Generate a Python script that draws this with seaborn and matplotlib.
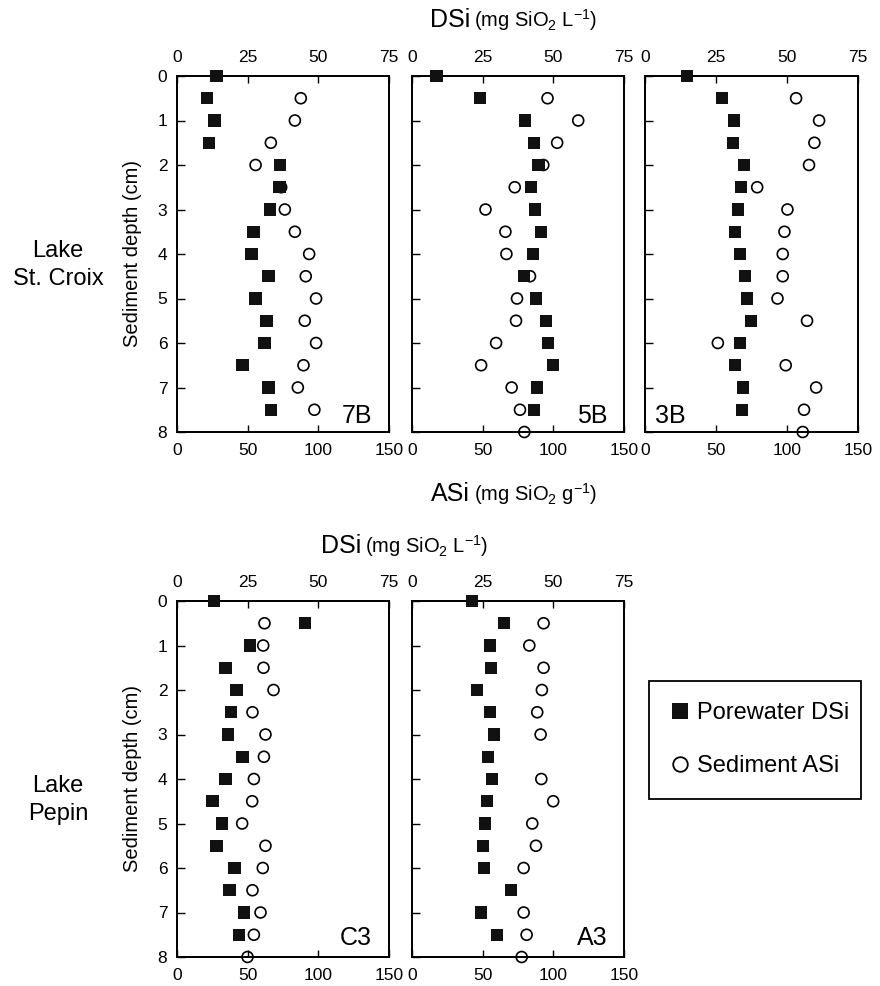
import numpy as np
import pandas as pd
import matplotlib
matplotlib.use('Agg')
import matplotlib.pyplot as plt
from matplotlib.lines import Line2D
from matplotlib.patches import Rectangle
import seaborn as sns

nan = np.nan

# sediment depth of each sample (cm)
depth = [0, 0.5, 1, 1.5, 2, 2.5, 3, 3.5, 4, 4.5, 5, 5.5, 6, 6.5, 7, 7.5, 8]

# porewater DSi (mg SiO2 / L) and sediment ASi (mg SiO2 / g)
dsi_7b = [13.9, 10.7, 13.2, 11.4, 36.5, 36.2, 33.0, 27.0, 26.3, 32.3, 27.7, 31.6, 30.9, 23.1, 32.3, 33.3, nan]
asi_7b = [nan, 87.6, 83.4, 66.4, 55.6, 73.7, 76.3, 83.4, 93.5, 91.1, 98.4, 90.4, 98.4, 89.5, 85.5, 97.2, nan]

dsi_5b = [8.6, 24.1, 40.0, 43.1, 44.7, 42.1, 43.5, 45.6, 42.8, 39.6, 43.8, 47.4, 48.1, 49.8, 44.2, 43.1, nan]
asi_5b = [nan, 95.9, 117.6, 102.7, 92.9, 72.7, 52.0, 66.1, 66.8, 83.5, 74.3, 73.6, 59.5, 48.9, 70.5, 76.4, 79.5]

dsi_3b = [14.8, 27.1, 31.3, 30.9, 34.8, 33.8, 32.7, 31.6, 33.4, 35.2, 35.9, 37.3, 33.4, 31.6, 34.5, 34.1, nan]
asi_3b = [nan, 106.4, 122.6, 119.3, 115.5, 79.0, 100.3, 98.2, 97.0, 97.0, 93.3, 114.1, 51.3, 99.1, 120.5, 112.0, 111.1]

dsi_c3 = [13.1, 45.3, 25.9, 17.1, 21.0, 19.2, 18.1, 23.1, 17.1, 12.5, 16.0, 13.9, 20.3, 18.5, 23.8, 22.0, nan]
asi_c3 = [nan, 61.9, 61.0, 61.2, 68.3, 53.4, 62.6, 61.5, 54.4, 53.2, 46.1, 62.6, 60.7, 53.4, 59.1, 54.4, 49.9]

dsi_a3 = [21.3, 32.6, 27.6, 28.0, 23.0, 27.6, 29.0, 26.9, 28.3, 26.6, 25.9, 25.2, 25.5, 35.0, 24.5, 30.1, nan]
asi_a3 = [nan, 93.1, 83.0, 93.1, 91.9, 88.6, 91.0, nan, 91.5, 99.9, 85.1, 87.7, 79.0, nan, 79.0, 81.1, 77.6]

asi_ticks = [0, 50, 100, 150]
dsi_ticks = [0, 25, 50, 75]
depth_ticks = [0, 1, 2, 3, 4, 5, 6, 7, 8]

sns.set_style('ticks')
plt.rcParams['font.family'] = ['Liberation Sans', 'DejaVu Sans']
plt.rcParams['mathtext.fontset'] = 'custom'
plt.rcParams['mathtext.rm'] = 'Liberation Sans'
plt.rcParams['text.color'] = 'black'
plt.rcParams['axes.edgecolor'] = 'black'
plt.rcParams['xtick.color'] = 'black'
plt.rcParams['ytick.color'] = 'black'

W, H = 880, 986
fig = plt.figure(figsize=(W / 100, H / 100), dpi=100)


def box(x0, y0, x1, y1):
    return fig.add_axes([x0 / W, 1 - y1 / H, (x1 - x0) / W, (y1 - y0) / H])


# (label, dsi, asi, pixel box, label x in axes coords, label ha, label y, first column)
panels = [
    ("7B", dsi_7b, asi_7b, (177, 76, 389, 432), 1 - 17 / 212, 'right', 9 / 356, True),
    ("5B", dsi_5b, asi_5b, (412, 76, 624, 432), 1 - 16 / 212, 'right', 9 / 356, False),
    ("3B", dsi_3b, asi_3b, (645, 76, 858, 432), 10 / 213, 'left', 9 / 356, False),
    ("C3", dsi_c3, asi_c3, (177, 601, 389, 957), 1 - 17 / 212, 'right', 12 / 356, True),
    ("A3", dsi_a3, asi_a3, (412, 601, 624, 957), 1 - 16 / 212, 'right', 12 / 356, False),
]

tick_fs = 12.5
for label, dsi, asi, (x0, y0, x1, y1), lx, lha, ly, first in panels:
    df = pd.DataFrame({'depth': depth, 'DSi': dsi, 'ASi': asi})
    ax = box(x0, y0, x1, y1)
    sns.scatterplot(data=df, x='ASi', y='depth', ax=ax, marker='o', s=62,
                    facecolors='none', edgecolor='black', linewidth=1.2,
                    clip_on=False, zorder=3)
    top = ax.twiny()
    sns.scatterplot(data=df, x='DSi', y='depth', ax=top, marker='s', s=80,
                    color='#111111', edgecolor='none', clip_on=False, zorder=3)
    ax.set_xlim(0, 150)
    top.set_xlim(0, 75)
    ax.set_ylim(8, 0)
    ax.set_xlabel('')
    ax.set_ylabel('')
    top.set_xlabel('')
    top.set_ylabel('')

    ax.set_xticks(asi_ticks)
    ax.set_yticks(depth_ticks)
    top.set_xticks(dsi_ticks)
    ax.tick_params(axis='x', direction='in', length=5, width=1, labelsize=tick_fs, pad=8)
    ax.tick_params(axis='y', direction='in', length=6, width=1, labelsize=tick_fs, pad=7,
                   right=False, labelleft=first)
    top.tick_params(axis='x', direction='in', length=5, width=1, labelsize=tick_fs, pad=8)
    for a in (ax, top):
        for sp in a.spines.values():
            sp.set_linewidth(1.3)
            sp.set_color('black')

    ax.text(lx, ly, label, transform=ax.transAxes, ha=lha, va='baseline', fontsize=18)


def axis_title(x, y, name, unit):
    fig.text(x / W, 1 - y / H, name, ha='right', va='center', fontsize=18)
    fig.text((x + 4) / W, 1 - y / H, unit, ha='left', va='center', fontsize=14.5)


axis_title(470, 20, 'DSi', r'(mg SiO$_\mathrm{2}$ L$^\mathrm{-1}$)')
axis_title(470, 494, 'ASi', r'(mg SiO$_\mathrm{2}$ g$^\mathrm{-1}$)')
axis_title(361, 546, 'DSi', r'(mg SiO$_\mathrm{2}$ L$^\mathrm{-1}$)')

for yc in (254, 779):
    fig.text(132 / W, 1 - yc / H, 'Sediment depth (cm)', rotation=90,
             ha='center', va='center', fontsize=14.5)
fig.text(58 / W, 1 - 265 / H, 'Lake\nSt. Croix', ha='center', va='center',
         fontsize=17, linespacing=1.4, multialignment='center')
fig.text(58 / W, 1 - 800 / H, 'Lake\nPepin', ha='center', va='center',
         fontsize=17, linespacing=1.4, multialignment='center')

handles = [
    Line2D([], [], marker='s', linestyle='none', color='#111111', markersize=11.5,
           markeredgewidth=0),
    Line2D([], [], marker='o', linestyle='none', markerfacecolor='none',
           markeredgecolor='black', markersize=10.5, markeredgewidth=1.3),
]
fig.legend(handles, ['Porewater DSi', 'Sediment ASi'], loc='center left',
           bbox_to_anchor=(668 / W, 1 - 739.5 / H), fontsize=17, frameon=False,
           borderpad=0, labelspacing=1.31, handlelength=1.0,
           handletextpad=0.22, borderaxespad=0)
fig.patches.append(Rectangle((649 / W, 1 - 799 / H), 212 / W, 118 / H,
                             transform=fig.transFigure, fill=False,
                             edgecolor='black', linewidth=1.3))

fig.savefig('out.png', dpi=100)
